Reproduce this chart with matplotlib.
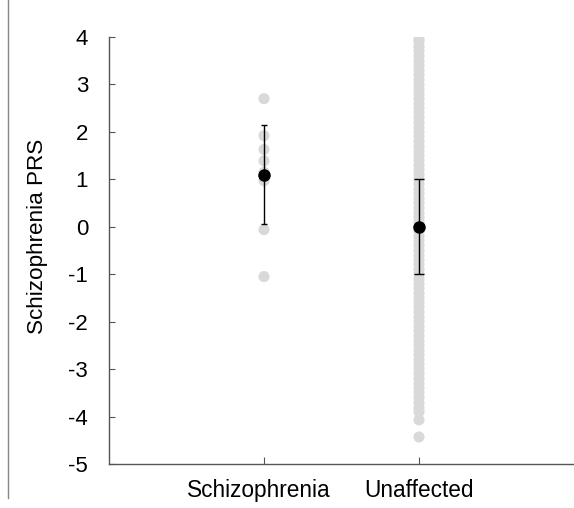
import matplotlib
matplotlib.use("Agg")
import matplotlib.pyplot as plt
import matplotlib.transforms as mtransforms
from matplotlib.lines import Line2D

plt.rcParams['font.family'] = ['Liberation Sans', 'DejaVu Sans']

categories = ["Schizophrenia", "Unaffected"]
schizophrenia_prs = [2.7, 1.92, 1.63, 1.39, 1.15, 0.97, -0.06, -1.05]
unaffected_prs = [
    3.95, 3.9, 3.8, 3.7, 3.6, 3.5, 3.4, 3.3, 3.2, 3.1, 3.0,
    2.9, 2.8, 2.7, 2.6, 2.5, 2.4, 2.3, 2.2, 2.1, 2.0,
    1.9, 1.8, 1.7, 1.6, 1.5, 1.4, 1.3, 1.2, 1.1, 1.0,
    0.9, 0.8, 0.7, 0.6, 0.5, 0.4, 0.3, 0.2, 0.1, 0.0,
    -0.1, -0.2, -0.3, -0.4, -0.5, -0.6, -0.7, -0.8, -0.9, -1.0,
    -1.1, -1.2, -1.3, -1.4, -1.5, -1.6, -1.7, -1.8, -1.9, -2.0,
    -2.1, -2.2, -2.3, -2.4, -2.5, -2.6, -2.7, -2.8, -2.9, -3.0,
    -3.1, -3.2, -3.3, -3.4, -3.5, -3.6, -3.72, -3.82, -3.9, -4.07, -4.43,
]
group_means = [1.1, 0.0]
group_errors = [1.04, 1.0]
y_ticks = [4, 3, 2, 1, 0, -1, -2, -3, -4, -5]

fig = plt.figure(figsize=(5.74, 5.08), dpi=100)
ax = fig.add_axes([109/574, 44/508, 1 - 109/574, (464 - 37)/508])

grey = '#d9d9d9'
ax.scatter([1] * len(schizophrenia_prs), schizophrenia_prs, s=64, color=grey,
           edgecolors='none', zorder=2)
ax.scatter([2] * len(unaffected_prs), unaffected_prs, s=64, color=grey,
           edgecolors='none', zorder=2)

ax.errorbar([1], [group_means[0]], yerr=[group_errors[0]], fmt='o', color='black',
            markersize=8, elinewidth=1, capsize=2.5, capthick=1, zorder=3)
ax.errorbar([2], [group_means[1]], yerr=[group_errors[1]], fmt='o', color='black',
            markersize=8, elinewidth=1, capsize=3.5, capthick=1, zorder=3)

ax.set_xlim(0, 3)
ax.set_ylim(-5, 4)
ax.set_xticks([1, 2])
ax.set_xticklabels(categories, fontsize=16.3)
ax.set_yticks(y_ticks)
ax.set_yticklabels([str(t) for t in y_ticks], fontsize=16)
ax.set_ylabel("Schizophrenia PRS", fontsize=16.2)
ax.yaxis.set_label_coords(-0.131, 0.534)

for side in ['top', 'right']:
    ax.spines[side].set_visible(False)
for side in ['left', 'bottom']:
    ax.spines[side].set_color('#555555')
    ax.spines[side].set_linewidth(1)

ax.tick_params(axis='y', direction='in', length=4.5, width=0.8, color='#555555', pad=15)
ax.tick_params(axis='x', direction='in', length=5, width=0.8, color='#555555', pad=10.5)

# slight left offset of the first category label, as in the reference
lbl = ax.get_xticklabels()[0]
lbl.set_transform(lbl.get_transform() +
                  mtransforms.ScaledTranslation(-5/100, 0, fig.dpi_scale_trans))

fig.add_artist(Line2D([8/574, 8/574], [1, 10/508], transform=fig.transFigure,
                      color='#888888', linewidth=1))

fig.savefig("out.png", dpi=100)
